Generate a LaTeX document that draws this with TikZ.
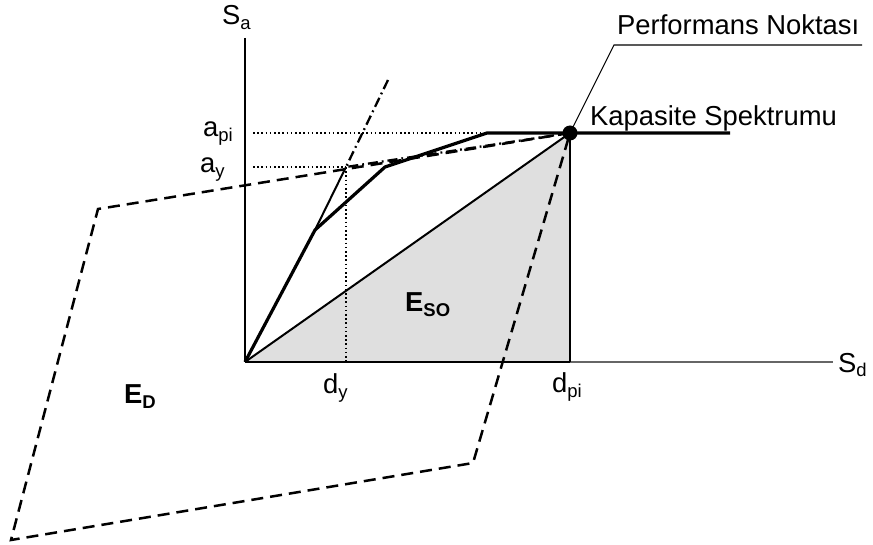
\documentclass[tikz,border=0pt]{standalone}
\usepackage{fontspec}
\setmainfont{Liberation Sans}
\newcommand\lsub[1]{\raisebox{-5pt}{\fontsize{18.5}{20}\selectfont #1}}
\begin{document}
\begin{tikzpicture}[x=1pt,y=-1pt,
  lbl/.style={inner sep=0pt,anchor=base west},
  axisline/.style={line width=1.2pt,black},
  capline/.style={line width=3.2pt,black,line join=round},
  thinsolid/.style={line width=2pt,black},
  dottedline/.style={line width=1.8pt,dash pattern=on 1.6pt off 2.6pt},
  dashedline/.style={line width=2.5pt,dash pattern=on 12pt off 7pt},
  dashdotline/.style={line width=2.3pt,dash pattern=on 10pt off 4pt on 1.8pt off 4pt},
  leader/.style={line width=1.1pt,black},
  font=\fontsize{27.4}{33}\selectfont]
\useasboundingbox (0,0) rectangle (873,545);
% coordinates
\coordinate (O) at (245,362);
\coordinate (P) at (570,133);
\coordinate (D) at (570,362);
\coordinate (Y) at (346,167);
\coordinate (K1) at (315,230);
\coordinate (K2) at (385,167);
\coordinate (K3) at (487,133);
\coordinate (E) at (730,133);
\coordinate (T) at (388,80);
\coordinate (A) at (98,209);
\coordinate (B) at (11,540);
\coordinate (C) at (473,463);
\coordinate (L) at (614,45);
\coordinate (L2) at (862,45);
\coordinate (YT) at (245,38);
\coordinate (XE) at (833,362);
\coordinate (Dy) at (346,362);
\coordinate (Api) at (253,133);
\coordinate (Ay) at (253,167);
% gray area
\fill[gray!25] (O) -- (P) -- (D) -- cycle;
% axes
\draw[axisline] (YT) -- (O);
\draw[line width=1.2pt,black!60] (O) -- (XE);
\draw[line width=2.8pt,black] (O) -- (D);
% dotted helpers
\draw[dottedline] (Api) -- (P);
\draw[dottedline] (Ay) -- (Y);
\draw[dottedline] (Y) -- (Dy);
\draw[line width=1.2pt] (P) -- (D);
\draw[dottedline,line width=2.6pt] (P) -- (D);
% demand loop
\draw[dashedline] (P) -- (A) -- (B) -- (C) -- cycle;
% bilinear
\draw[dashdotline] (T) -- (Y) -- (P);
\draw[thinsolid] (K1) -- (Y);
% capacity curve
\draw[capline] (O) -- (K1) -- (K2) -- (K3) -- (E);
% secant
\draw[thinsolid] (O) -- (P);
% performance point
\fill (P) circle (7.5);
\draw[leader] (P) -- (L) -- (L2);
% labels
\node[lbl] (sa) at (222,25) {S\lsub{a}};
\node[lbl] (sd) at (838,372) {S\lsub{d}};
\node[lbl] (api) at (203,137) {a\lsub{pi}};
\node[lbl] (ay) at (200,173) {a\lsub{y}};
\node[lbl] (dy) at (323,393) {d\lsub{y}};
\node[lbl] (dpi) at (552,392) {d\lsub{pi}};
\node[lbl] (eso) at (405,312) {\bfseries E\lsub{\bfseries SO}};
\node[lbl] (ed) at (124,403) {\bfseries E\lsub{\bfseries D}};
\node[lbl] (pn) at (617,35) {Performans Noktası};
\node[lbl] (ks) at (590,126) {Kapasite Spektrumu};
\end{tikzpicture}
\end{document}
